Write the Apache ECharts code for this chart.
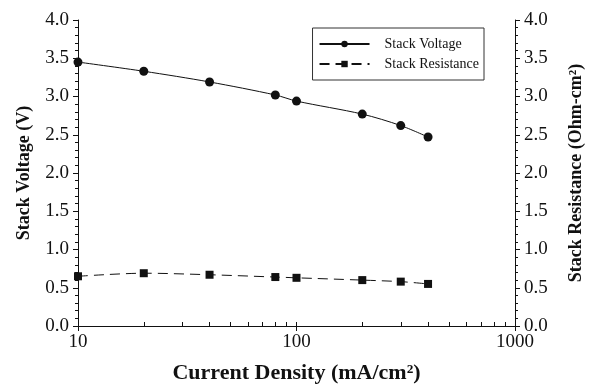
<!DOCTYPE html>
<html>
<head>
<meta charset="utf-8">
<script src="https://cdn.jsdelivr.net/npm/echarts@6/dist/echarts.min.js"></script>
<style>
html,body{margin:0;padding:0;background:#fff;}
#chart{width:593px;height:391px;}
</style>
</head>
<body>
<div id="chart"></div>
<script>
// Measured stack performance vs. current density
const currentDensity = [10, 20, 40, 80, 100, 200, 300, 400];          // mA/cm2
const stackVoltage = [3.45, 3.33, 3.19, 3.02, 2.94, 2.77, 2.62, 2.47]; // V
const stackResistance = [0.65, 0.69, 0.67, 0.64, 0.63, 0.60, 0.58, 0.55]; // Ohm-cm2

const xMajor = [10, 100, 1000];
const xMinor = [20, 30, 40, 50, 60, 70, 80, 90, 200, 300, 400, 500, 600, 700, 800, 900];

const serif = '"Liberation Serif", "Times New Roman", serif';
const ink = '#111';

const chart = echarts.init(document.getElementById('chart'));

const yCommon = {
  type: 'value', min: 0, max: 4, interval: 0.5,
  axisLine: { show: true, lineStyle: { color: ink, width: 1 } },
  axisTick: { show: true, inside: false, length: 5, lineStyle: { color: ink } },
  minorTick: { show: true, splitNumber: 5, length: 3, lineStyle: { color: ink } },
  splitLine: { show: false },
  axisLabel: { color: ink, fontFamily: serif, fontSize: 19, margin: 9,
    formatter: v => v.toFixed(1) },
  nameLocation: 'middle',
  nameTextStyle: { color: ink, fontFamily: serif, fontSize: 18, fontWeight: 'bold' }
};

chart.setOption({
  animation: false,
  backgroundColor: '#fff',
  grid: { left: 78, right: 76, top: 20, bottom: 65, containLabel: false },
  legend: {
    right: 109, top: 28,
    orient: 'vertical',
    itemWidth: 50, itemHeight: 8, itemGap: 6,
    borderColor: '#333', borderWidth: 1,
    padding: [9, 5, 9, 6],
    textStyle: { color: ink, fontFamily: serif, fontSize: 14, padding: [0, 0, 0, 10] },
    data: ['Stack Voltage', 'Stack Resistance']
  },
  xAxis: [
    {
      type: 'log', logBase: 10, min: 10, max: 1000, position: 'bottom',
      name: 'Current Density (mA/cm²)', nameLocation: 'middle', nameGap: 36,
      nameTextStyle: { color: ink, fontFamily: serif, fontSize: 22, fontWeight: 'bold' },
      axisLine: { show: true, onZero: false, lineStyle: { color: ink, width: 1 } },
      axisTick: { show: true, inside: true, length: 4, customValues: xMinor.concat(xMajor), lineStyle: { color: ink } },
      axisLabel: { color: ink, fontFamily: serif, fontSize: 19, margin: 7, customValues: xMajor,
        formatter: v => String(Math.round(v)) },
      splitLine: { show: false }
    },
    {
      type: 'log', logBase: 10, min: 10, max: 1000, position: 'bottom',
      axisLine: { show: false },
      axisTick: { show: true, inside: false, length: 5, customValues: xMajor, lineStyle: { color: ink } },
      axisLabel: { show: false },
      splitLine: { show: false }
    },
    {
      type: 'log', logBase: 10, min: 10, max: 1000, position: 'top',
      axisLine: { show: true, lineStyle: { color: ink, width: 1 } },
      axisTick: { show: false },
      axisLabel: { show: false },
      splitLine: { show: false }
    }
  ],
  yAxis: [
    Object.assign({}, yCommon, { position: 'left', name: 'Stack Voltage (V)', nameGap: 45 }),
    Object.assign({}, yCommon, { position: 'right', name: 'Stack Resistance (Ohm-cm²)', nameGap: 52,
      nameRotate: 90 })
  ],
  series: [
    {
      name: 'Stack Voltage', type: 'line', xAxisIndex: 0, yAxisIndex: 0,
      data: currentDensity.map((x, i) => [x, stackVoltage[i]]),
      smooth: 0.3,
      symbol: 'circle', symbolSize: 9,
      itemStyle: { color: ink },
      lineStyle: { color: ink, width: 1, type: 'solid' }
    },
    {
      name: 'Stack Resistance', type: 'line', xAxisIndex: 0, yAxisIndex: 1,
      data: currentDensity.map((x, i) => [x, stackResistance[i]]),
      smooth: 0.3,
      symbol: 'rect', symbolSize: 8,
      itemStyle: { color: ink },
      lineStyle: { color: ink, width: 1, type: [10, 6] }
    }
  ]
});
</script>
</body>
</html>
